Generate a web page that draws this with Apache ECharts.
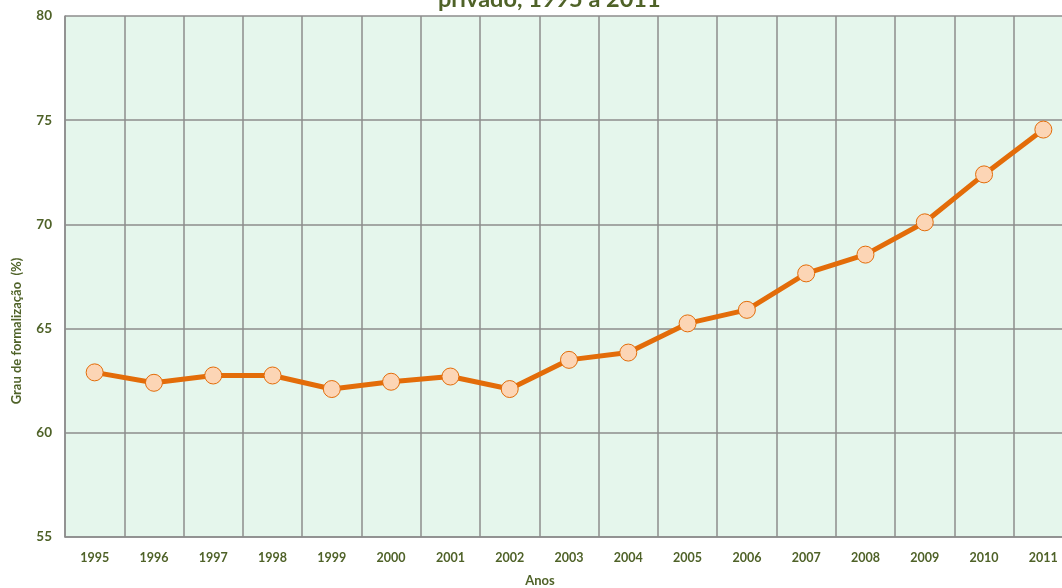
<!DOCTYPE html>
<html><head><meta charset="utf-8">
<script src="https://cdn.jsdelivr.net/npm/echarts@6/dist/echarts.min.js"></script>
<style>html,body{margin:0;padding:0;background:#fff}#c{width:1062px;height:588px}</style>
</head><body><div id="c"></div>
<script>
var categories = ['1995','1996','1997','1998','1999','2000','2001','2002','2003','2004','2005','2006','2007','2008','2009','2010','2011'];
var formalizacao = [62.9, 62.4, 62.75, 62.75, 62.1, 62.45, 62.7, 62.1, 63.5, 63.85, 65.25, 65.9, 67.65, 68.55, 70.1, 72.4, 74.55];
var titleText = 'privado, 1995 a 2011';
var yAxisName = 'Grau de formalização  (%)';
var xAxisName = 'Anos';
var txt = '#4f6228';
var font = 'Lato';
var chart = echarts.init(document.getElementById('c'));
chart.setOption({
  animation: false,
  backgroundColor: '#ffffff',
  title: {text: titleText, left: 433, top: -18, textStyle: {fontFamily: font, fontSize: 23.5, fontWeight: 'bold', color: txt}},
  grid: {left: 65, top: 16, right: -11, bottom: 51, show: true, backgroundColor: '#e5f6ec', borderWidth: 0, containLabel: false, outerBoundsMode: 'none'},
  graphic: [
    {type: 'text', x: 17, y: 331, rotation: Math.PI / 2,
     style: {text: yAxisName, fill: txt, font: 'bold 13px ' + font, textAlign: 'center', textVerticalAlign: 'middle'}},
    {type: 'text', x: 540, y: 581,
     style: {text: xAxisName, fill: txt, font: 'bold 13px ' + font, textAlign: 'center', textVerticalAlign: 'middle'}}
  ],
  xAxis: {
    type: 'category', data: categories, boundaryGap: true,
    axisLine: {show: true, lineStyle: {color: '#8c8c8c', width: 1.5}},
    axisTick: {show: false},
    axisLabel: {fontFamily: font, fontSize: 12.5, fontWeight: 'bold', color: txt, margin: 14},
    splitLine: {show: true, lineStyle: {color: '#8c8c8c', width: 1.5}}
  },
  yAxis: {
    type: 'value', min: 55, max: 80, interval: 5,
    axisLine: {show: true, lineStyle: {color: '#8c8c8c', width: 1.5}},
    axisTick: {show: false},
    axisLabel: {fontFamily: font, fontSize: 13.5, fontWeight: 'bold', color: txt, margin: 13},
    splitLine: {show: true, lineStyle: {color: '#8c8c8c', width: 1.5}}
  },
  series: [{
    type: 'line', data: formalizacao,
    symbol: 'circle', symbolSize: 17,
    lineStyle: {color: '#e36c09', width: 5},
    itemStyle: {color: '#fcd5b5', borderColor: '#e36c09', borderWidth: 1}
  }]
});
</script></body></html>
